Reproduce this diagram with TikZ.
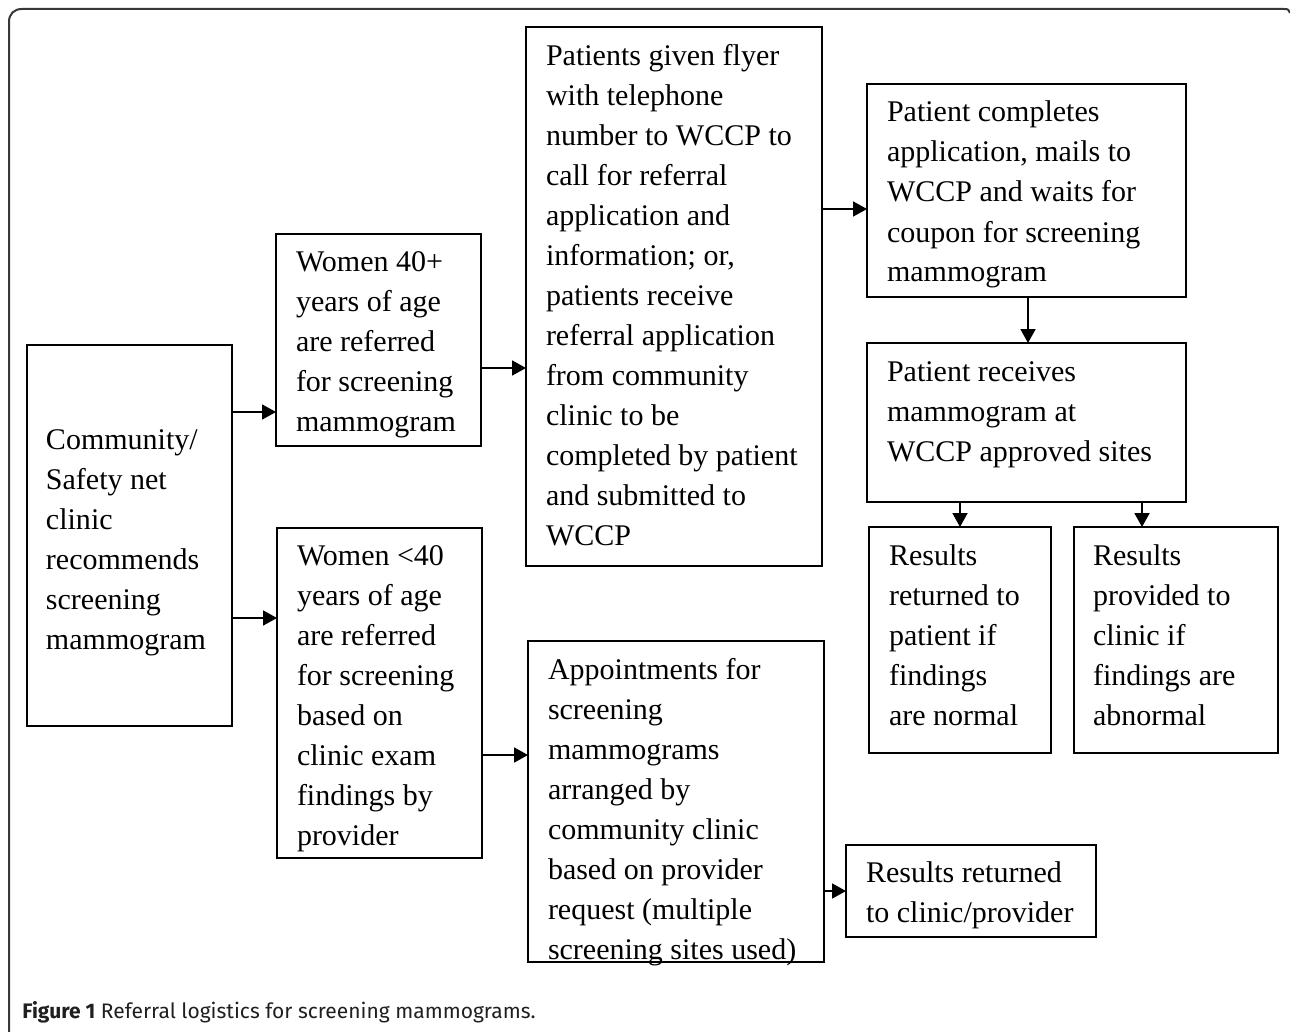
\documentclass[tikz,border=0pt]{standalone}
\usepackage{fontspec}
\setmainfont{Liberation Serif}
\newfontfamily\capfont{Fira Sans}
\usetikzlibrary{fit,arrows.meta}
\tikzset{
  box/.style={draw, line width=1.2pt, inner sep=0pt, outer sep=0pt, rectangle},
  txt/.style={anchor=north west, inner sep=0pt, outer sep=0pt, align=left,
    font=\fontsize{15}{20}\selectfont},
  arr/.style={line width=0.9pt, -{Triangle[length=7pt,width=7.5pt]}},
  frame/.style={draw=black!78, line width=1pt}
}
\begin{document}
\begin{tikzpicture}[x=0.5pt,y=-0.5pt]
\useasboundingbox (0,0) rectangle (1290,1032);
% outer frame
\draw[frame] (9,1032) -- (9,22) .. controls (9,14) and (14,9) .. (22,9) -- (1284,9) .. controls (1288,9) .. (1290,13);
% boxes
\node[box, fit={(27,345) (232,726)}] (b1) {};
\node[box, fit={(276,234) (481,446)}] (b2) {};
\node[box, fit={(277,528) (482,858)}] (b3) {};
\node[box, fit={(526,27) (822,566)}] (b4) {};
\node[box, fit={(867,84) (1186,297)}] (b5) {};
\node[box, fit={(867,343) (1186,502)}] (b6) {};
\node[box, fit={(869,527) (1051,753)}] (b7) {};
\node[box, fit={(1074,527) (1278,753)}] (b8) {};
\node[box, fit={(528,641) (824,962)}] (b9) {};
\node[box, fit={(846,845) (1096,937)}] (b10) {};
% texts
\node[txt] (t1) at (46,421) {\strut Community/\\Safety net\\clinic\\recommends\\screening\\mammogram};
\node[txt] (t2) at (296,243) {\strut Women 40+\\years of age\\are referred\\for screening\\mammogram};
\node[txt] (t3) at (297,537) {\strut Women <40\\years of age\\are referred\\for screening\\based on\\clinic exam\\findings by\\provider};
\node[txt] (t4) at (546,37) {\strut Patients given flyer\\with telephone\\number to WCCP to\\call for referral\\application and\\information; or,\\patients receive\\referral application\\from community\\clinic to be\\completed by patient\\and submitted to\\WCCP};
\node[txt] (t5) at (887,94) {\strut Patient completes\\application, mails to\\WCCP and waits for\\coupon for screening\\mammogram};
\node[txt] (t6) at (887,353) {\strut Patient receives\\mammogram at\\WCCP approved sites};
\node[txt] (t7) at (889,537) {\strut Results\\returned to\\patient if\\findings\\are normal};
\node[txt] (t8) at (1093,537) {\strut Results\\provided to\\clinic if\\findings are\\abnormal};
\node[txt] (t9) at (548,651) {\strut Appointments for\\screening\\mammograms\\arranged by\\community clinic\\based on provider\\request (multiple\\screening sites used)};
\node[txt] (t10) at (866,854) {\strut Results returned\\to clinic/provider};
% helper coordinates
\coordinate (h1) at (0,412);
\coordinate (h2) at (0,618);
\coordinate (h3) at (0,368);
\coordinate (h4) at (0,755);
\coordinate (h5) at (0,209);
\coordinate (h6) at (0,891);
\coordinate (v1) at (1028,0);
\coordinate (v2) at (960,0);
\coordinate (v3) at (1142,0);
% arrows
\draw[arr] (b1.east |- h1) -- (b2.west |- h1);
\draw[arr] (b1.east |- h2) -- (b3.west |- h2);
\draw[arr] (b2.east |- h3) -- (b4.west |- h3);
\draw[arr] (b3.east |- h4) -- (b9.west |- h4);
\draw[arr] (b4.east |- h5) -- (b5.west |- h5);
\draw[arr] (b5.south -| v1) -- (b6.north -| v1);
\draw[arr] (b6.south -| v2) -- (b7.north -| v2);
\draw[arr] (b6.south -| v3) -- (b8.north -| v3);
\draw[arr] (b9.east |- h6) -- (b10.west |- h6);
% caption
\node[anchor=base west, inner sep=0pt, text=black!88] (cap) at (22,1018)
  {\capfont\fontsize{10.5}{12}\selectfont\textbf{Figure 1} Referral logistics for screening mammograms.};
\end{tikzpicture}
\end{document}
